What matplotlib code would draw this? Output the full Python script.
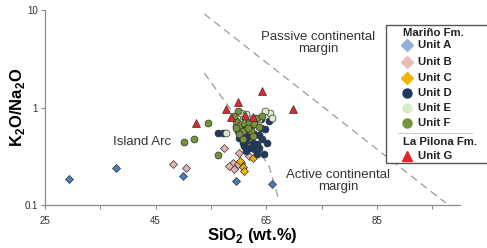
import matplotlib
matplotlib.use("Agg")
import matplotlib.pyplot as plt
from matplotlib.lines import Line2D
from matplotlib.patches import Rectangle

plt.rcParams['font.family'] = ['Liberation Sans', 'DejaVu Sans']
plt.rcParams['mathtext.fontset'] = 'custom'
plt.rcParams['mathtext.rm'] = 'Liberation Sans'
plt.rcParams['mathtext.bf'] = 'Liberation Sans:bold'

# ---- data (SiO2 wt.%, K2O/Na2O) ----
unitA_x = [29.3, 37.8, 50.0, 59.6, 66.1, 60.5]
unitA_y = [0.185, 0.24, 0.199, 0.177, 0.165, 0.271]

unitB_x = [48.1, 50.4, 57.4, 60.1, 61.9, 58.9, 59.8, 59.1, 58.2]
unitB_y = [0.265, 0.241, 0.387, 0.344, 0.32, 0.271, 0.265, 0.235, 0.252]

unitC_x = [60.3, 60.7, 60.9, 62.5]
unitC_y = [0.284, 0.247, 0.224, 0.305]

unitD_x = [56.2, 57.1, 60.7, 61.0, 61.9, 62.8, 63.7, 64.3, 65.2, 61.4, 62.5, 63.4,
           61.0, 61.9, 62.8, 63.7, 64.6, 63.4, 61.4, 60.1, 60.7, 64.1, 64.8, 65.5,
           62.3, 59.8, 64.1]
unitD_y = [0.553, 0.553, 0.622, 0.540, 0.514, 0.540, 0.527, 0.479, 0.436, 0.457, 0.436, 0.425,
           0.406, 0.387, 0.378, 0.387, 0.336, 0.336, 0.360, 0.490, 0.436, 0.622, 0.608, 0.734,
           0.652, 0.579, 0.770]

unitE_x = [57.8, 60.5, 61.4, 62.5, 60.7, 65.7, 66.1, 63.7, 61.6, 64.8, 59.6]
unitE_y = [0.553, 0.888, 0.867, 0.789, 0.770, 0.888, 0.789, 0.770, 0.684, 0.931, 0.652]

unitF_x = [54.4, 50.2, 52.0, 56.2, 59.6, 60.1, 61.0, 61.9, 63.4, 64.3, 62.8, 63.7,
           60.7, 62.3, 60.1, 59.6, 60.7, 62.5, 61.6, 59.2, 59.8]
unitF_y = [0.700, 0.446, 0.479, 0.328, 0.734, 0.652, 0.700, 0.700, 0.789, 0.827, 0.684, 0.637,
           0.579, 0.579, 0.540, 0.622, 0.479, 0.514, 0.622, 0.827, 0.931]

unitG_x = [52.2, 57.8, 59.8, 58.7, 61.2, 64.3, 62.5, 69.9]
unitG_y = [0.70, 0.976, 1.15, 0.79, 0.847, 1.46, 0.79, 0.976]

# discrimination boundaries
upper_x = [53.8, 97.4]
upper_y = [9.1, 0.105]
lower_x = [53.8, 58.7, 65.5, 67.3]
lower_y = [2.25, 0.93, 0.25, 0.112]

x_ticks = [25, 35, 45, 55, 65, 75, 85, 95]
x_labels = ['25', '', '45', '', '65', '', '85', '']
y_ticks = [0.1, 1, 10]
y_labels = ['0.1', '1', '10']

units = [
    ('Unit A', unitA_x, unitA_y, 'D', '#4a7ebb', '#8fb2dd', 4.5),
    ('Unit B', unitB_x, unitB_y, 'D', '#e6b3b3', '#e8bcbb', 4.5),
    ('Unit C', unitC_x, unitC_y, 'D', '#f5b400', '#f5b400', 4.5),
    ('Unit D', unitD_x, unitD_y, 'o', '#1d3a62', '#1d3a62', 5.0),
    ('Unit E', unitE_x, unitE_y, 'o', '#d9ecc9', '#d9ecc9', 5.0),
    ('Unit F', unitF_x, unitF_y, 'o', '#76923b', '#76923b', 5.0),
]
unitG = ('Unit G', unitG_x, unitG_y, '^', '#e3262b', '#e3262b', 5.5)

W, H = 487, 248
fig = plt.figure(figsize=(W / 100, H / 100), dpi=100)
ax = fig.add_axes([45 / W, 1 - 205 / H, (460 - 45) / W, (205 - 10) / H])

ax.set_yscale('log')
ax.set_xlim(25, 100)
ax.set_ylim(0.1, 10)

ax.plot(upper_x, upper_y, color='#9a9a9a', lw=0.9, ls=(0, (6, 4)), zorder=1)
ax.plot(lower_x, lower_y, color='#9a9a9a', lw=0.9, ls=(0, (6, 4)), zorder=1)

for name, xs, ys, m, c, lc, s in units + [unitG]:
    ax.plot(xs, ys, ls='none', marker=m, ms=s, mfc=c, mec='#333333', mew=0.5, zorder=3)

for sp in ['top', 'right']:
    ax.spines[sp].set_visible(False)
for sp in ['left', 'bottom']:
    ax.spines[sp].set_color('#8c8c8c')
    ax.spines[sp].set_linewidth(0.9)

ax.set_xticks(x_ticks)
ax.set_xticklabels(x_labels)
ax.set_yticks(y_ticks)
ax.set_yticklabels(y_labels)
ax.yaxis.set_minor_locator(matplotlib.ticker.NullLocator())
ax.tick_params(axis='both', which='major', length=3, width=0.8, color='#8c8c8c',
               labelsize=7, labelcolor='#333333', pad=2)
ax.tick_params(axis='x', pad=5)

ax.set_xlabel('SiO$_\\mathbf{2}$ (wt.%)', fontsize=12, fontweight='bold')
ax.set_ylabel('K$_\\mathbf{2}$O/Na$_\\mathbf{2}$O', fontsize=12, fontweight='bold')
ax.xaxis.set_label_coords(0.5, -(226 - 205) / 195)
ax.yaxis.set_label_coords(-(45 - 27) / 415, 0.5)

tc = '#333333'
ax.text(74.4, 4.6, 'Passive continental\nmargin', ha='center', va='center', fontsize=9.5,
        color=tc, linespacing=1.0)
ax.text(42.5, 0.446, 'Island Arc', ha='center', va='center', fontsize=9.5, color=tc)
ax.text(78.0, 0.175, 'Active continental\nmargin', ha='center', va='center', fontsize=9.5,
        color=tc, linespacing=1.0)

# ---- legend (drawn manually in figure pixels) ----
def fx(px):
    return px / W

def fy(py):
    return 1 - py / H

fs_leg = 8.2
fig.add_artist(Rectangle((fx(386), fy(163)), fx(110), fy(25) - fy(163),
                         transform=fig.transFigure, fill=True, facecolor='white',
                         edgecolor='#555555', lw=1.0, zorder=5))
fig.text(fx(403), fy(33.5), 'Mariño Fm.', fontsize=fs_leg, fontweight='bold', va='center',
         ha='left', color='#222222', zorder=6)
rows = [45, 62, 78, 93, 108, 123]
for (name, xs, ys, m, c, lc, s), ry in zip(units, rows):
    fig.add_artist(Line2D([fx(407)], [fy(ry)], transform=fig.transFigure, marker=m,
                          ms=s + 2 if m == 'D' else s + 1.5, mfc=lc, mec=lc, ls='none', zorder=6))
    fig.text(fx(418), fy(ry), name, fontsize=fs_leg, fontweight='bold', va='center', ha='left',
             color='#222222', zorder=6)
fig.add_artist(Line2D([fx(398), fx(472)], [fy(133), fy(133)], transform=fig.transFigure,
                      color='#cccccc', lw=0.8, zorder=6))
fig.text(fx(403), fy(142), 'La Pilona Fm.', fontsize=fs_leg, fontweight='bold', va='center',
         ha='left', color='#222222', zorder=6)
name, xs, ys, m, c, lc, s = unitG
fig.add_artist(Line2D([fx(407)], [fy(156)], transform=fig.transFigure, marker=m, ms=s + 1.5,
                      mfc=lc, mec=lc, ls='none', zorder=6))
fig.text(fx(418), fy(156), name, fontsize=fs_leg, fontweight='bold', va='center', ha='left',
         color='#222222', zorder=6)

fig.savefig('out.png', dpi=100, facecolor='white')
